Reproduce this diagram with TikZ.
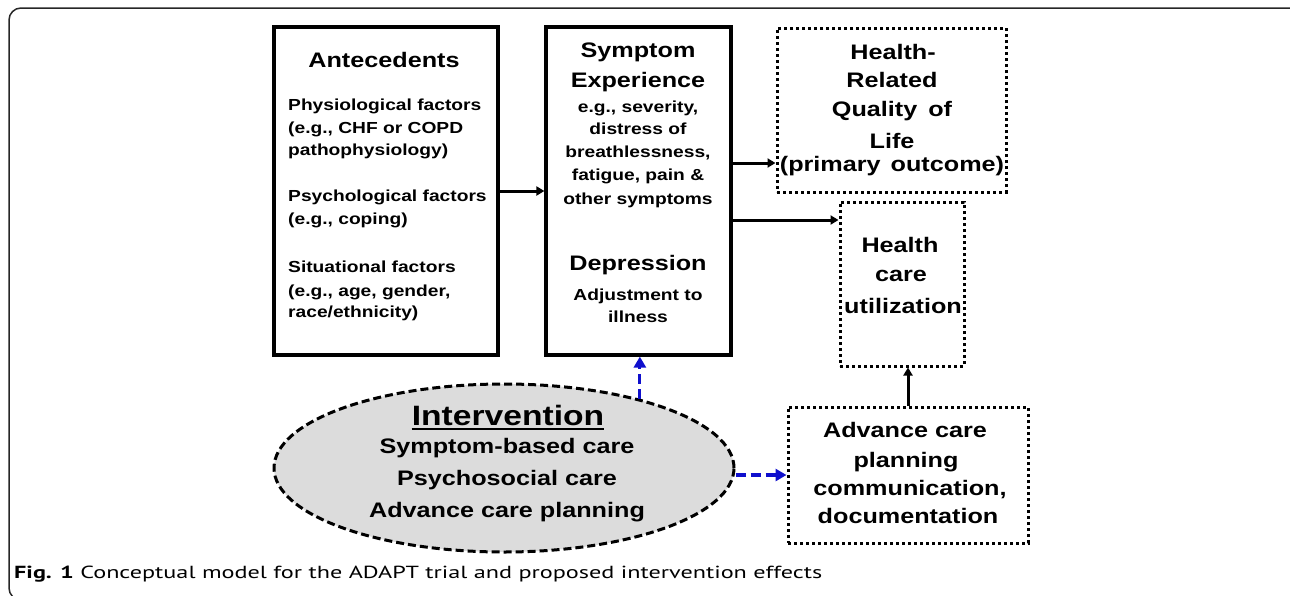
\documentclass[tikz,border=0pt]{standalone}
\usepackage{fontspec}
\usepackage{graphicx}
\usetikzlibrary{arrows.meta,shapes.geometric,calc}
\newfontfamily\dfont[FakeStretch=1.2]{Liberation Sans}
\newfontfamily\capfont{PT Sans}
\definecolor{arrblue}{RGB}{15,15,205}
\definecolor{ellfill}{RGB}{220,220,220}
\tikzset{
  solidbox/.style={draw=black,line width=3.2pt,inner sep=0pt},
  dotbox/.style={draw=black,line width=3pt,dash pattern=on 3pt off 3pt,inner sep=0pt},
  tx/.style={inner sep=0pt,anchor=base,font=\dfont\bfseries},
  tl/.style={inner sep=0pt,anchor=base west,font=\dfont\bfseries},
  big/.style={font=\dfont\bfseries\fontsize{21}{25}\selectfont},
  small/.style={font=\dfont\bfseries\fontsize{16}{20}\selectfont},
  arr/.style={line width=3pt,-{Triangle[length=8pt,width=9pt]}},
  bluearr/.style={arrblue,line width=3.2pt,dash pattern=on 10pt off 5pt,-{Triangle[length=11pt,width=12pt]}},
}
\begin{document}
\begin{tikzpicture}[x=1pt,y=-1pt]
\useasboundingbox (0,0) rectangle (1290,595);
% outer frame
\draw[line width=1.5pt,black!85,rounded corners=12pt] (1290,8) -- (9,8) -- (9,600) -- (60,600);

% boxes
\node[solidbox,minimum width=224pt,minimum height=328pt] (ante) at (386,191) {};
\node[solidbox,minimum width=185pt,minimum height=328pt] (sym) at (638.5,191) {};
\node[dotbox,minimum width=229pt,minimum height=164pt] (hrq) at (891.5,110) {};
\node[dotbox,minimum width=124pt,minimum height=164pt] (hcu) at (902,284) {};
\node[dotbox,minimum width=240pt,minimum height=136pt] (acp) at (908,475) {};
\node[ellipse,draw=black,fill=ellfill,line width=3pt,dash pattern=on 8pt off 4pt,
      minimum width=460pt,minimum height=168pt,inner sep=0pt] (int) at (504,468) {};

% Antecedents text
\node[tx,big] (a0) at (384,67.5) {Antecedents};
\node[tl,small] (a1) at (288,110) {Physiological factors};
\node[tl,small] (a2) at (288,133) {(e.g., CHF or COPD};
\node[tl,small] (a3) at (288,155) {pathophysiology)};
\node[tl,small] (a4) at (288,201) {Psychological factors};
\node[tl,small] (a5) at (288,224) {(e.g., coping)};
\node[tl,small] (a6) at (288,272) {Situational factors};
\node[tl,small] (a7) at (288,296) {(e.g., age, gender,};
\node[tl,small] (a8) at (288,317) {race/ethnicity)};

% Symptom text
\node[tx,big] (s0) at (638,57) {Symptom};
\node[tx,big] (s1) at (638,87) {Experience};
\node[tx,small] (s2) at (638,112) {e.g., severity,};
\node[tx,small] (s3) at (638,134) {distress of};
\node[tx,small] (s4) at (638,157) {breathlessness,};
\node[tx,small] (s5) at (638,180) {fatigue, pain \&};
\node[tx,small] (s6) at (638,204) {other symptoms};
\node[tx,big] (s7) at (638,270) {Depression};
\node[tx,small] (s8) at (638,300) {Adjustment to};
\node[tx,small] (s9) at (638,322) {illness};

% HRQoL text
\node[tx,big] (h0) at (893,59) {Health-};
\node[tx,big] (h1) at (892,87) {Related};
\node[tx,big] (h2) at (892,116) {Quality\hspace{4pt} of};
\node[tx,big] (h3) at (892,148) {Life};
\node[tx,big] (h4) at (892,171) {(primary\hspace{3pt} outcome)};

% Health care utilization text
\node[tx,big] (u0) at (900,252) {Health};
\node[tx,big] (u1) at (901,281) {care};
\node[tx,big] (u2) at (903,313) {utilization};

% Advance care planning text
\node[tx,big] (p0) at (905,437) {Advance care};
\node[tx,big] (p1) at (906,467) {planning};
\node[tx,big] (p2) at (910,495) {communication,};
\node[tx,big] (p3) at (908,523) {documentation};

% Intervention text
\node[tx,font=\dfont\bfseries\fontsize{28}{32}\selectfont] (i0) at (508,425) {Intervention};
\draw[line width=2pt] ([yshift=-3.5pt]i0.base west) -- ([yshift=-3.5pt]i0.base east);
\node[tx,big] (i1) at (507,453) {Symptom-based care};
\node[tx,big] (i2) at (507,485) {Psychosocial care};
\node[tx,big] (i3) at (507,517) {Advance care planning};

% connectors
\draw[arr] (ante.east) -- (sym.west);
\draw[arr] ([yshift=28pt]sym.east) coordinate (sA) -- (sA -| hrq.west);
\draw[arr] ([yshift=-29pt]sym.east) coordinate (sB) -- (sB -| hcu.west);
\draw[arr] (acp.north) -- (acp.north |- hcu.south);
\draw[bluearr] (int.27) -- (int.27 |- sym.south);
\draw[bluearr] (int.east |- acp.west) -- (acp.west);

% caption
\node[inner sep=0pt,anchor=base west,font=\capfont\fontsize{17.5}{20}\selectfont] (cap) at (14,578)
  {\resizebox{808pt}{\height}{\textbf{Fig. 1} Conceptual model for the ADAPT trial and proposed intervention effects}};
\end{tikzpicture}
\end{document}
